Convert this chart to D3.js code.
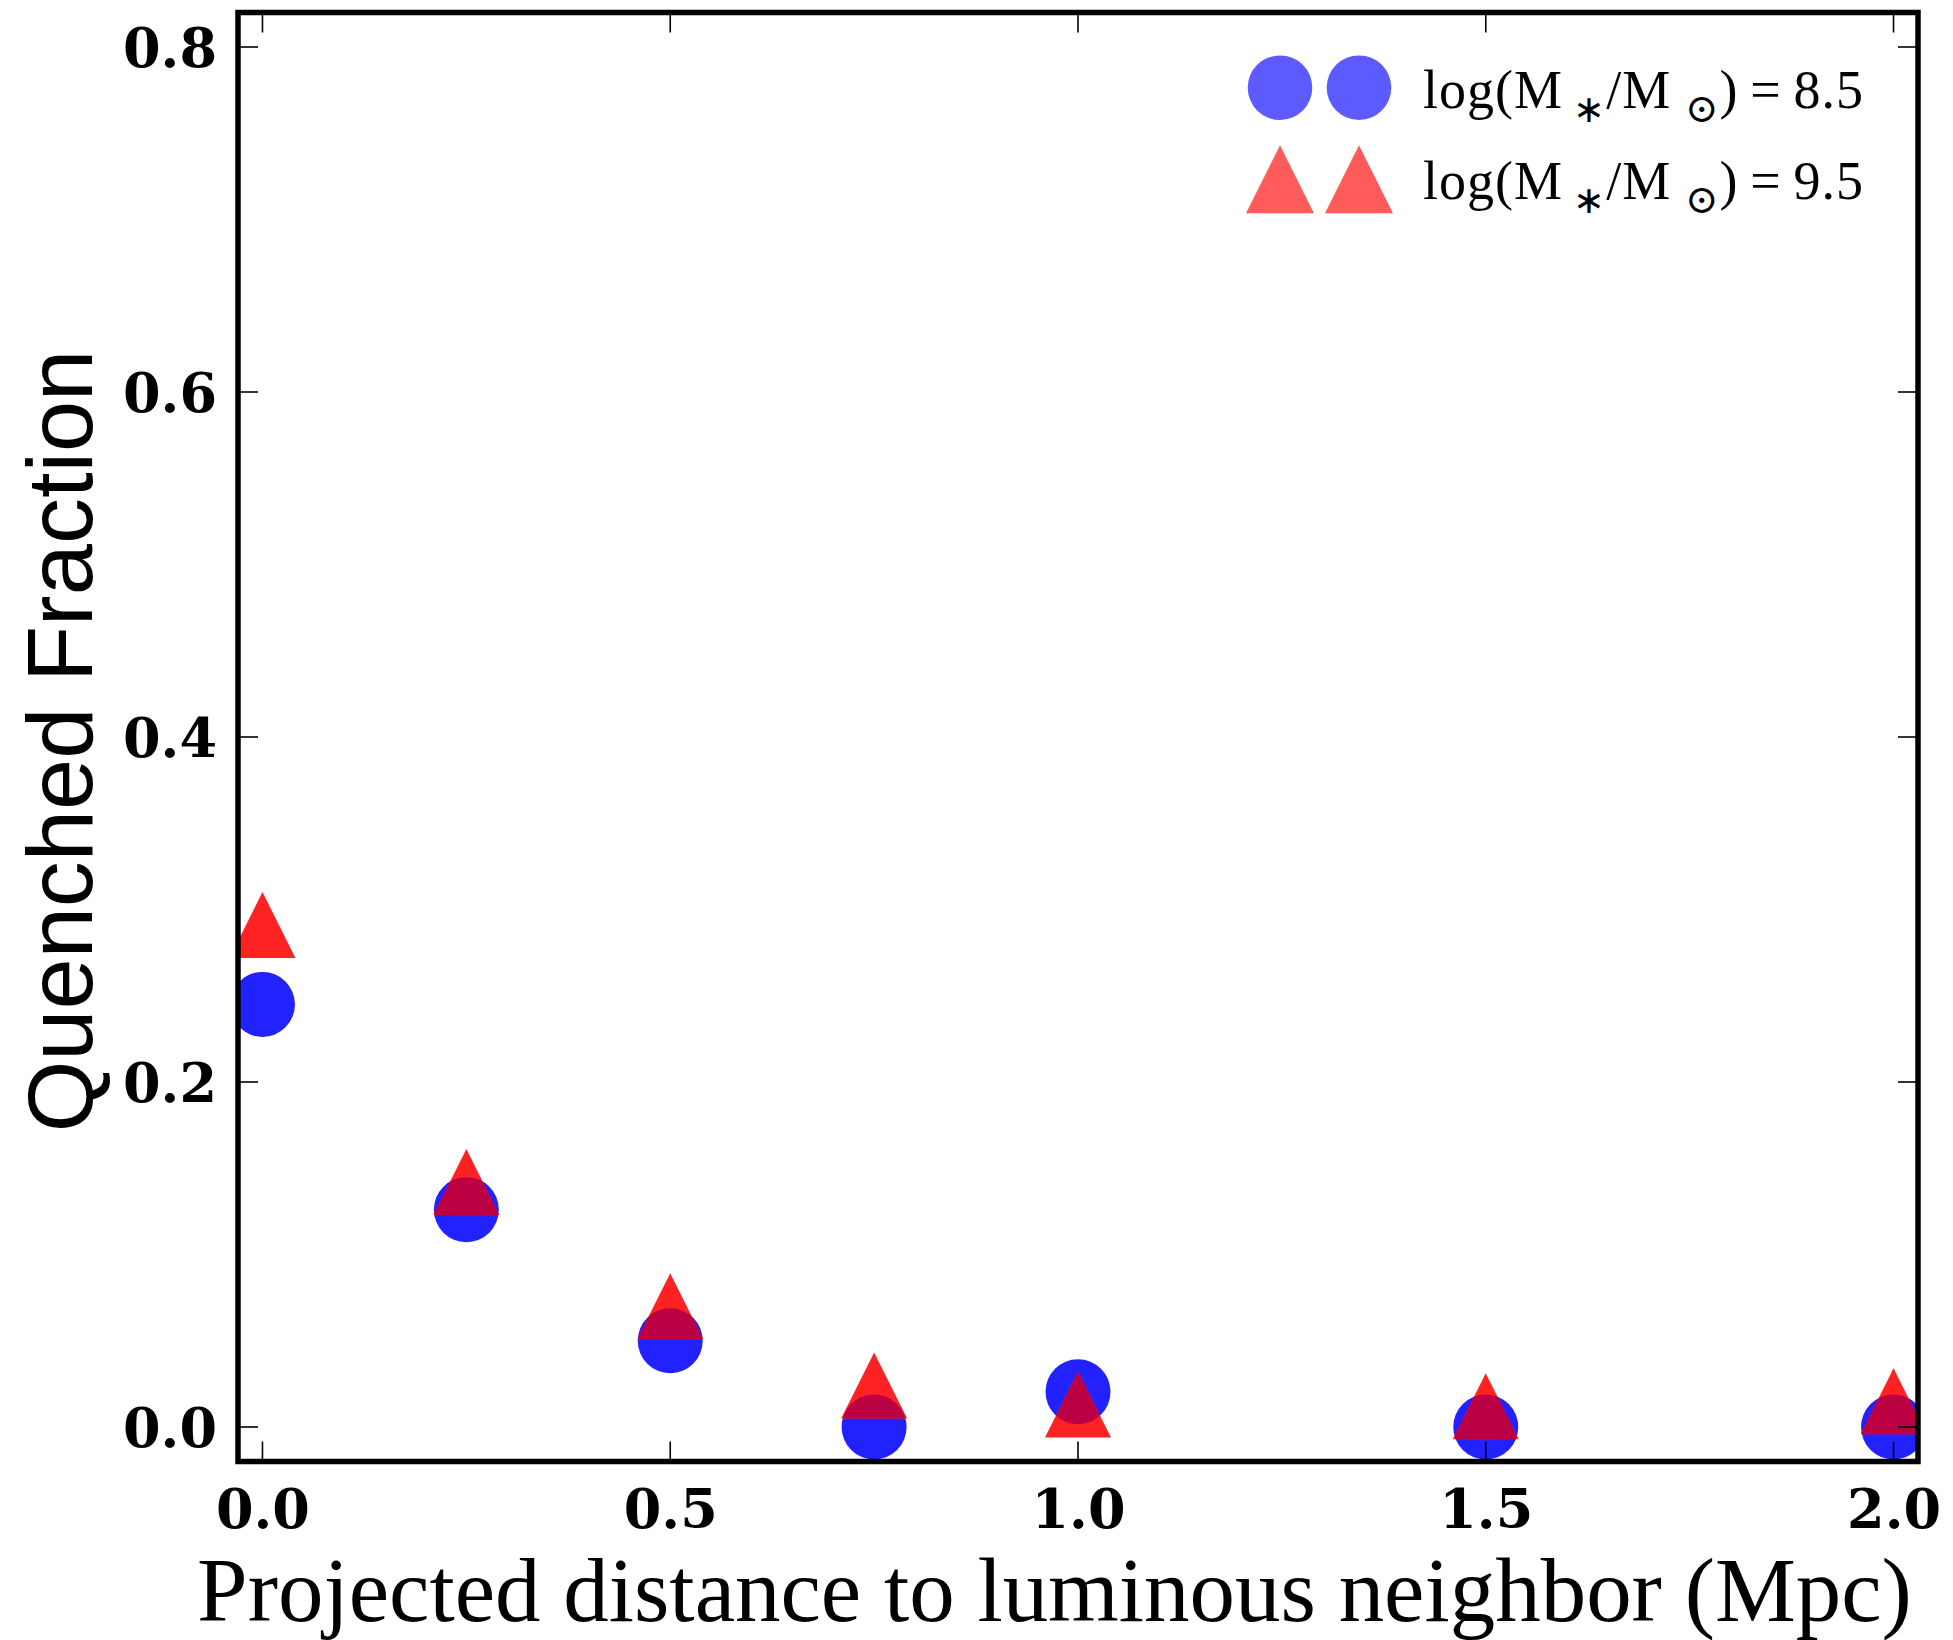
<!DOCTYPE html>
<html>
<head>
<meta charset="utf-8">
<script src="https://cdn.jsdelivr.net/npm/d3@7"></script>
<style>
  body { margin: 0; background: #fff; }
</style>
</head>
<body>
<div id="viz"></div>
<script>
var width = 1953,
    height = 1640;

// data
var distances = [0.0, 0.25, 0.5, 0.75, 1.0, 1.5, 2.0];
var fracLow = [0.245, 0.126, 0.050, 0.0, 0.0204, 0.0, 0.0];      // log(M*/Msun)=8.5
var fracHigh = [0.291, 0.142, 0.070, 0.024, 0.013, 0.012, 0.015]; // log(M*/Msun)=9.5
var xTicks = [0.0, 0.5, 1.0, 1.5, 2.0];
var yTicks = [0.0, 0.2, 0.4, 0.6, 0.8];
var legendLabels = ['8.5', '9.5'];

var azul = '#2222ff',
    rojo = '#ff2222',
    mezcla = '#bb0044';

var plotLeft = 238, plotRight = 1918, plotTop = 12.5, plotBottom = 1461.5;

var x = d3.scaleLinear().domain([-0.03, 2.03]).range([plotLeft, plotRight]);
var y = d3.scaleLinear().domain([-0.02, 0.82]).range([plotBottom, plotTop]);

var svg = d3.select('#viz')
  .append('svg')
  .attr('width', width)
  .attr('height', height)
  .style('background', '#fff');

var defs = svg.append('defs');

defs.append('clipPath')
  .attr('id', 'plotArea')
  .append('rect')
  .attr('x', plotLeft)
  .attr('y', plotTop)
  .attr('width', plotRight - plotLeft)
  .attr('height', plotBottom - plotTop);

var r = 32.5, h = 33;
function triPath(s) {
  return 'M0,' + (-s) + 'L' + s + ',' + s + 'L' + (-s) + ',' + s + 'Z';
}

// clip paths with the circles, for the overlap colour
fracLow.forEach(function(d, i) {
  defs.append('clipPath')
    .attr('id', 'circ' + i)
    .append('circle')
    .attr('cx', x(distances[i]))
    .attr('cy', y(d))
    .attr('r', r);
});

var plot = svg.append('g').attr('clip-path', 'url(#plotArea)');

plot.selectAll('circle.low')
  .data(fracLow)
  .enter().append('circle')
  .attr('class', 'low')
  .attr('cx', function(d, i) { return x(distances[i]); })
  .attr('cy', function(d) { return y(d); })
  .attr('r', r)
  .style('fill', azul);

plot.selectAll('path.high')
  .data(fracHigh)
  .enter().append('path')
  .attr('class', 'high')
  .attr('d', triPath(h))
  .attr('transform', function(d, i) { return 'translate(' + x(distances[i]) + ',' + y(d) + ')'; })
  .style('fill', rojo);

plot.selectAll('g.overlap')
  .data(fracHigh)
  .enter().append('g')
  .attr('class', 'overlap')
  .attr('clip-path', function(d, i) { return 'url(#circ' + i + ')'; })
  .append('path')
  .attr('d', triPath(h))
  .attr('transform', function(d, i) { return 'translate(' + x(distances[i]) + ',' + y(d) + ')'; })
  .style('fill', mezcla);

// ticks, inward on all sides
var tickLen = 20;
var axisBottom = d3.axisBottom(x).tickValues(xTicks).tickSize(0).tickPadding(28)
  .tickFormat(d3.format('.1f'));
var axisLeft = d3.axisLeft(y).tickValues(yTicks).tickSize(0).tickPadding(21)
  .tickFormat(d3.format('.1f'));

var gx = svg.append('g').attr('transform', 'translate(0,' + plotBottom + ')').call(axisBottom);
var gy = svg.append('g').attr('transform', 'translate(' + plotLeft + ',0)').call(axisLeft);
[gx, gy].forEach(function(g) {
  g.select('.domain').remove();
  g.selectAll('text')
    .style('font-family', '"DejaVu Serif", serif')
    .style('font-weight', 'bold')
    .style('font-size', '54px')
    .style('fill', '#000');
});
gx.selectAll('text').attr('dy', '0.71em');
gy.selectAll('text').attr('dy', '0.36em');

var ticks = svg.append('g').attr('stroke', '#000').attr('stroke-width', 1.6);
xTicks.forEach(function(t) {
  ticks.append('line').attr('x1', x(t)).attr('x2', x(t)).attr('y1', plotBottom).attr('y2', plotBottom - tickLen);
  ticks.append('line').attr('x1', x(t)).attr('x2', x(t)).attr('y1', plotTop).attr('y2', plotTop + tickLen);
});
yTicks.forEach(function(t) {
  ticks.append('line').attr('x1', plotLeft).attr('x2', plotLeft + tickLen).attr('y1', y(t)).attr('y2', y(t));
  ticks.append('line').attr('x1', plotRight).attr('x2', plotRight - tickLen).attr('y1', y(t)).attr('y2', y(t));
});

// frame
svg.append('rect')
  .attr('x', plotLeft)
  .attr('y', plotTop)
  .attr('width', plotRight - plotLeft)
  .attr('height', plotBottom - plotTop)
  .style('fill', 'none')
  .attr('stroke', '#000')
  .attr('stroke-width', 5.5);

// axis titles
var xlab = svg.append('text')
  .attr('x', (197 + 1912) / 2)
  .attr('y', 1621)
  .attr('text-anchor', 'middle')
  .style('font-family', '"Liberation Serif", serif')
  .style('font-size', '82px')
  .text('Projected distance to luminous neighbor (Mpc)');
var wx = xlab.node().getComputedTextLength();
xlab.style('font-size', (82 * 1715 / wx) + 'px');

svg.append('text')
  .attr('transform', 'translate(92,741) rotate(-90)')
  .attr('text-anchor', 'middle')
  .style('font-family', '"Liberation Sans", Arial, sans-serif')
  .style('font-size', '92px')
  .text('Quenched Fraction');

// legend
var legend = svg.append('g');
var rowY = [87.7, 179.3];
var markX = [1280, 1359];
var legColors = ['#5b5bff', '#ff5b5b'];

legendLabels.forEach(function(lab, i) {
  markX.forEach(function(mx) {
    if (i === 0) {
      legend.append('circle').attr('cx', mx).attr('cy', rowY[i]).attr('r', 32.3).style('fill', legColors[i]);
    } else {
      legend.append('path').attr('d', triPath(34))
        .attr('transform', 'translate(' + mx + ',' + rowY[i] + ')')
        .style('fill', legColors[i]);
    }
  });
  var t = legend.append('text')
    .attr('x', 1423)
    .attr('y', rowY[i] + 20)
    .style('font-family', '"Liberation Serif", serif')
    .style('font-size', '54px');
  t.append('tspan').text('log(M');
  t.append('tspan').attr('dy', 14).style('font-size', '38px').text(' \u2217');
  t.append('tspan').attr('dy', -14).text('/M');
  t.append('tspan').attr('dy', 14).style('font-size', '40px')
    .style('font-family', '"DejaVu Serif", serif').text(' \u2299');
  t.append('tspan').attr('dy', -14).text(')\u2009=\u20098.5'.replace('8.5', lab));
  t.attr('textLength', 440).attr('lengthAdjust', 'spacing');
});
</script>
</body>
</html>
